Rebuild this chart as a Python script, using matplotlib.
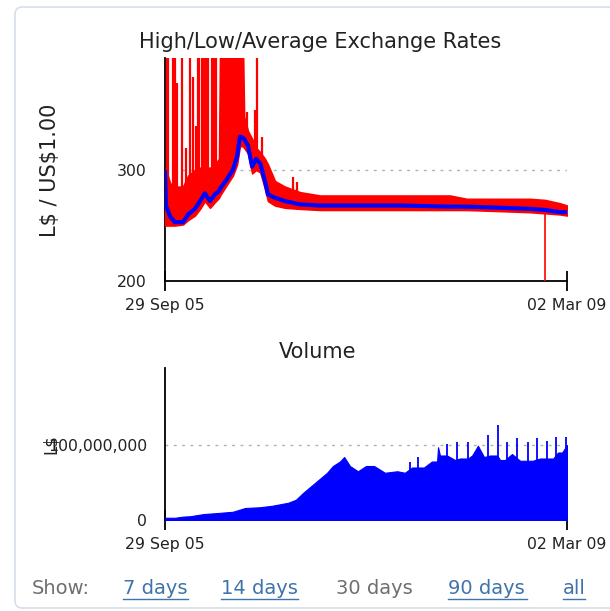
import numpy as np
import matplotlib
matplotlib.use("Agg")
import matplotlib.pyplot as plt
from matplotlib.patches import FancyBboxPatch
from matplotlib.lines import Line2D

# days since 29 Sep 05 (last day = 02 Mar 09)
rate_day = [0, 3, 16, 31, 56, 72, 93, 109, 124, 140, 155, 168, 171, 193, 211, 224,
            233, 243, 246, 258, 271, 283, 296, 311, 320, 342, 373, 420, 482, 575,
            731, 886, 939, 1042, 1135, 1182, 1228, 1250]
rate_avg = [298, 268, 258, 253, 253, 260, 265, 272, 279, 272, 278, 281, 283, 292, 300, 312,
            330, 329, 328, 322, 303, 310, 306, 290, 278, 275, 272, 269, 268, 268,
            268, 267, 267, 266, 265, 264, 262, 262]
rate_high = [300, 300, 288, 285, 285, 295, 300, 302, 302, 302, 305, 310, 402, 402, 402, 402,
             402, 402, 348, 335, 328, 320, 316, 310, 305, 290, 285, 280, 277, 277,
             277, 277, 274, 274, 274, 273, 270, 268]
rate_low = [250, 250, 250, 250, 251, 255, 259, 265, 272, 266, 271, 275, 277, 287, 295, 305,
            322, 321, 320, 315, 297, 300, 298, 283, 272, 268, 266, 265, 264, 264,
            264, 264, 264, 263, 262, 261, 260, 259]

# isolated high spikes
spike_day = [6, 9, 25, 31, 37, 53, 65, 78, 87, 96, 103, 106, 115, 121, 128, 134, 146,
             152, 159, 255, 280, 286, 302, 398, 411]
spike_high = [420, 420, 420, 420, 378, 420, 320, 420, 384, 340, 420, 420, 420, 420, 420, 420, 420,
              420, 420, 352, 354, 420, 330, 294, 289]
dip_day = [1182]
dip_low = [200]

vol_day = [0, 31, 56, 78, 121, 155, 211, 249, 295, 333, 383, 407, 429, 454, 479, 504,
           522, 544, 557, 575, 600, 625, 650, 684, 722, 746, 768, 805, 830, 846, 849,
           855, 877, 902, 917, 942, 955, 973, 992, 1011, 1033, 1042, 1057, 1079, 1104,
           1126, 1144, 1166, 1191, 1207, 1222, 1235, 1250]
vol_mil = [3, 3, 4.5, 5, 8, 9, 11, 16, 17, 19, 23, 27, 36, 45, 54, 63,
           72, 78, 84, 72, 65, 72, 72, 63, 65, 63, 70, 70, 78, 78, 97,
           86, 86, 80, 82, 82, 86, 99, 84, 86, 86, 80, 80, 88, 79,
           79, 79, 82, 82, 82, 90, 90, 100]
vspike_day = [762, 787, 877, 908, 942, 1005, 1036, 1064, 1095, 1129, 1157, 1188, 1216, 1247]
vspike_mil = [77, 84, 102, 104, 104, 114, 127, 104, 110, 104, 110, 106, 111, 111]

W, H = 610, 611
fig = plt.figure(figsize=(W / 100, H / 100), dpi=100)
plt.rcParams['font.family'] = 'DejaVu Sans'

def fx(px):
    return px / W

def fy(py):
    return 1 - py / H

# panel border
fig.patches.append(FancyBboxPatch((fx(15), fy(608)), fx(640) - fx(15), fy(7) - fy(608),
                                  boxstyle="round,pad=0,rounding_size=0.012",
                                  transform=fig.transFigure, fill=False,
                                  edgecolor='#d6dee8', linewidth=1.2))

last = 1250
tcol = '#222222'

# ---- rates ----
ax = fig.add_axes([fx(165), fy(281), fx(567) - fx(165), fy(58) - fy(281)])
ax.set_xlim(0, last)
ax.set_ylim(200, 200 + (281 - 58) / 111 * 100)
ax.axhline(300, color='#b0b0b0', ls=(0, (2, 4)), lw=1)
ax.fill_between(rate_day, rate_low, rate_high, color='red', lw=1.2, edgecolor='red', zorder=3)
ax.vlines(spike_day, [np.interp(d, rate_day, rate_avg) for d in spike_day], spike_high,
          color='red', lw=1.6, zorder=3)
ax.vlines(dip_day, dip_low, [np.interp(d, rate_day, rate_avg) for d in dip_day],
          color='red', lw=1.2, zorder=3)
ax.plot(rate_day, rate_avg, color='blue', lw=3, zorder=4)

# ---- volume ----
ax2 = fig.add_axes([fx(165), fy(520), fx(567) - fx(165), fy(368) - fy(520)])
ax2.set_xlim(0, last)
ax2.set_ylim(0, (520 - 368) / 75 * 1e8)
ax2.axhline(1e8, color='#b0b0b0', ls=(0, (2, 4)), lw=1)
vol = np.array(vol_mil) * 1e6
ax2.fill_between(vol_day, 0, vol, color='blue', lw=0.8, edgecolor='blue', zorder=3)
ax2.vlines(vspike_day, 0, np.array(vspike_mil) * 1e6, color='blue', lw=1.3, zorder=3)

for a, yt, yl in [(ax, [200, 300], ['200', '300']), (ax2, [0, 1e8], ['0', '100,000,000'])]:
    for s in ['top', 'right']:
        a.spines[s].set_visible(False)
    a.spines['left'].set_linewidth(1.3)
    a.spines['bottom'].set_linewidth(1.3)
    a.set_yticks(yt, yl)
    a.set_xticks([0, last], ['29 Sep 05', '02 Mar 09'])
    a.tick_params(axis='y', length=0, pad=13, labelsize=11.3, labelcolor=tcol)
    a.tick_params(axis='x', direction='inout', length=15, width=1.3, pad=5,
                  labelsize=11.3, labelcolor=tcol)
    a.patch.set_alpha(0)

fig.text(fx(320), fy(42), 'High/Low/Average Exchange Rates', ha='center', va='center',
         fontsize=15, color=tcol)
fig.text(fx(318), fy(352), 'Volume', ha='center', va='center', fontsize=15, color=tcol)
fig.text(fx(50), fy(170), r'L\$ / US\$1.00', rotation=90, ha='center', va='center',
         fontsize=15, color=tcol)
fig.text(fx(51), fy(444), r'L\$', rotation=90, ha='center', va='center', fontsize=12, color=tcol)

# link row
link = '#3f74aa'
grey = '#6f6f6f'
row = [('Show:', 32, 92, grey, False), ('7 days', 123, 188, link, True),
       ('14 days', 221, 298, link, True), ('30 days', 336, 413, grey, False),
       ('90 days', 448, 527, link, True), ('all', 563, 585, link, True)]
for txt, x0, x1, c, ul in row:
    fig.text(fx(x0), fy(588), txt, ha='left', va='center', fontsize=14, color=c)
    if ul:
        fig.add_artist(Line2D([fx(x0), fx(x1)], [fy(599), fy(599)], color=c, lw=1,
                              transform=fig.transFigure))

fig.savefig('out.png', dpi=100)
